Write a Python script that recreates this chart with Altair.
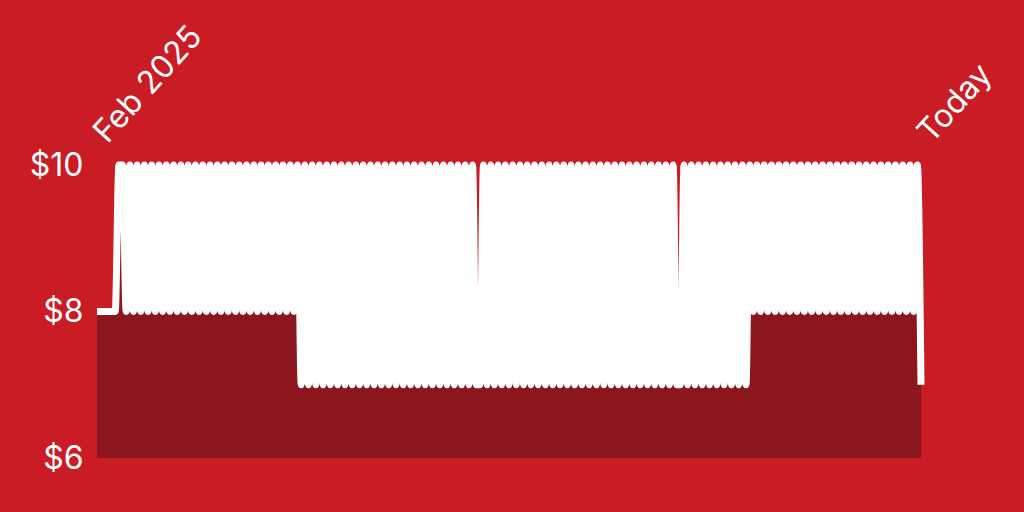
import altair as alt
import pandas as pd
import jinja2
from altair.utils import html as _alt_html

# Daily price readings, Feb 2025 -> today (index = day number)
prices = [
    8, 8, 8, 8, 8, 8, 10, 10,
    8, 10, 8, 10, 8, 10, 8, 10, 8, 10, 8, 10, 8, 10, 8, 10, 8, 10, 8, 10, 8, 10,
    8, 10, 8, 10, 8, 10, 8, 10, 8, 10, 8, 10, 8, 10, 8, 10, 8, 10, 8, 10,
    8, 10, 8, 10, 8, 10,
    7, 10, 7, 10, 7, 10, 7, 10, 7, 10, 7, 10, 7, 10, 7, 10, 7, 10, 7, 10,
    7, 10, 7, 10, 7, 10, 7, 10, 7, 10, 7, 10, 7, 10, 7, 10, 7, 10, 7, 10,
    7, 10, 7, 10, 7, 10, 7, 10,
    7, 7,
    10, 7, 10, 7, 10, 7, 10, 7, 10, 7, 10, 7, 10, 7, 10, 7, 10, 7, 10, 7,
    10, 7, 10, 7, 10, 7, 10, 7, 10, 7, 10, 7, 10, 7, 10, 7, 10, 7, 10, 7,
    10, 7, 10, 7, 10, 7, 10, 7, 10, 7, 10, 7, 10, 7,
    7,
    10, 7, 10, 7, 10, 7, 10, 7, 10, 7, 10, 7, 10, 7, 10, 7, 10, 7,
    10, 8, 10, 8, 10, 8, 10, 8, 10, 8, 10, 8, 10, 8, 10, 8, 10, 8, 10, 8,
    10, 8, 10, 8, 10, 8, 10, 8, 10, 8, 10, 8, 10, 8, 10, 8, 10, 8, 10, 8,
    10, 8, 10, 8, 10, 8,
    10, 7,
]
days = list(range(len(prices)))
last_day = days[-1]

y_ticks = [6, 8, 10]
x_label_start = "Feb 2025"
x_label_end = "Today"

BG = "#C91C25"
DARK = "#8C161D"
FONT = "Inter"

df = pd.DataFrame({"day": days, "price": prices})

x_enc = alt.X(
    "day:Q",
    scale=alt.Scale(domain=[0, last_day], nice=False, zero=False),
    axis=alt.Axis(
        orient="top",
        values=[0, last_day],
        labelExpr=f"datum.value == 0 ? '{x_label_start}' : '{x_label_end}'",
        labelAngle=312,
        labelAlign="left",
        labelBaseline="alphabetic",
        labelPadding=21,
        labelOffset=10,
        labelFontSize=32,
        labelFont=FONT,
        labelColor="white",
        labelFlush=False,
        labelOverlap=False,
        ticks=False,
        tickSize=0,
        domain=False,
        grid=False,
        title=None,
    ),
)

y_enc = alt.Y(
    "price:Q",
    scale=alt.Scale(domain=[6, 10], nice=False, zero=False),
    axis=alt.Axis(
        values=y_ticks,
        labelExpr="'$' + datum.value",
        labelFontSize=32,
        labelFont=FONT,
        labelColor="white",
        labelPadding=14,
        ticks=False,
        tickSize=0,
        domain=False,
        grid=False,
        title=None,
    ),
)

area = alt.Chart(df).mark_area(color=DARK, interpolate="monotone").encode(
    x=x_enc, y=y_enc, y2=alt.datum(6)
)
line = alt.Chart(df).mark_line(
    color="white", strokeWidth=7, interpolate="monotone", strokeJoin="round", strokeCap="butt"
).encode(x=x_enc, y=y_enc)

chart = (
    alt.layer(area, line)
    .properties(
        width=824,
        height=293,
        background=BG,
        padding={"left": 97, "top": 165, "right": 103, "bottom": 54},
        autosize=alt.AutoSizeParams(type="none"),
    )
    .configure_view(stroke=None)
)

# full-bleed page: no white body margin
_PAGE_CSS = "<style>html,body{margin:0;padding:0;background:%s;overflow:hidden}</style>" % BG
_BASE_TEMPLATE = getattr(_alt_html, "HTML_TEMPLATE", None) or _alt_html.TEMPLATES["standard"]


class _FullBleedTemplate(jinja2.Template):
    def render(self, *args, **kwargs):
        page = _BASE_TEMPLATE.render(*args, **kwargs)
        if "<head>" in page:
            return page.replace("<head>", "<head>\n" + _PAGE_CSS, 1)
        return _PAGE_CSS + page


chart.save(
    "out.html",
    embed_options={"renderer": "svg", "actions": False},
    template=_FullBleedTemplate(""),
)
